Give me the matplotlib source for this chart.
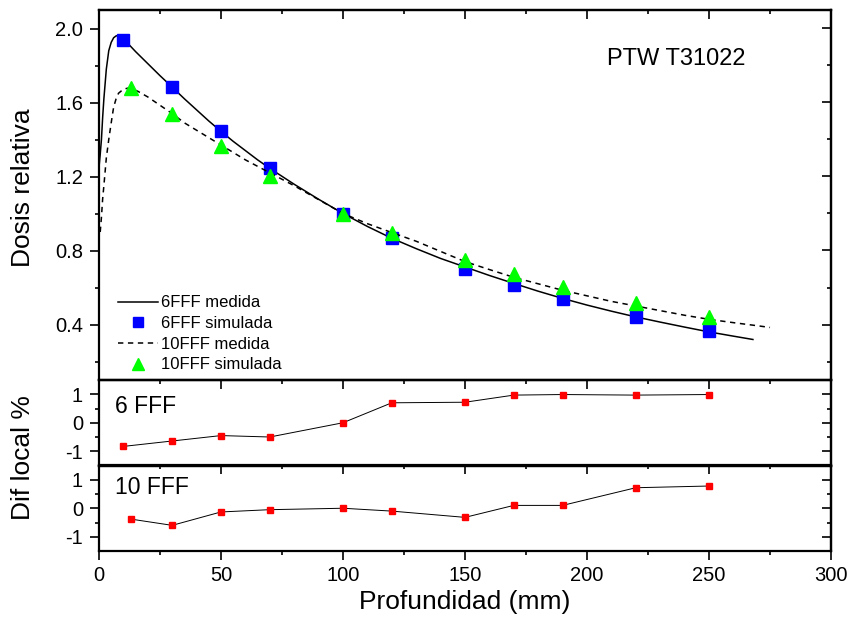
import matplotlib
matplotlib.use("Agg")
import matplotlib.pyplot as plt

plt.rcParams["font.family"] = ["Liberation Sans", "DejaVu Sans"]
plt.rcParams["axes.unicode_minus"] = False

# 6FFF medida (measured PDD, solid)
depth_6_med = [0, 0.5, 1, 1.5, 2, 2.5, 3, 4, 5, 6, 7, 8, 9, 10, 15, 20, 25, 30,
               35, 40, 45, 50, 55, 60, 65, 70, 80, 90, 100, 110, 120, 130, 140,
               150, 160, 170, 180, 190, 200, 210, 220, 230, 240, 250, 260, 268]
dose_6_med = [1.25, 1.32, 1.40, 1.52, 1.62, 1.70, 1.78, 1.88, 1.925, 1.95, 1.96,
              1.962, 1.955, 1.945, 1.875, 1.81, 1.745, 1.683, 1.62, 1.56, 1.50,
              1.444, 1.39, 1.34, 1.29, 1.244, 1.158, 1.077, 1.0, 0.93, 0.866,
              0.81, 0.757, 0.711, 0.665, 0.622, 0.58, 0.541, 0.505, 0.472, 0.441,
              0.413, 0.386, 0.36, 0.337, 0.319]

# 10FFF medida (measured PDD, dashed)
depth_10_med = [0.5, 1, 1.5, 2, 3, 4, 5, 6, 7, 8, 10, 12, 14, 16, 20, 25, 30, 35,
                40, 45, 50, 55, 60, 65, 70, 80, 90, 100, 110, 120, 130, 140, 150,
                160, 170, 180, 190, 200, 210, 220, 230, 240, 250, 260, 270, 275]
dose_10_med = [0.90, 0.98, 1.08, 1.15, 1.30, 1.40, 1.49, 1.575, 1.62, 1.65, 1.672,
               1.678, 1.672, 1.66, 1.63, 1.585, 1.54, 1.49, 1.45, 1.41, 1.37, 1.33,
               1.29, 1.255, 1.22, 1.15, 1.075, 1.0, 0.945, 0.897, 0.85, 0.795, 0.74,
               0.697, 0.655, 0.62, 0.585, 0.555, 0.525, 0.50, 0.475, 0.45, 0.428,
               0.41, 0.393, 0.384]

# simulated points
depth_6_sim = [10, 30, 50, 70, 100, 120, 150, 170, 190, 220, 250]
dose_6_sim = [1.937, 1.683, 1.444, 1.244, 1.0, 0.866, 0.70, 0.614, 0.536, 0.441, 0.363]
depth_10_sim = [13, 30, 50, 70, 100, 120, 150, 170, 190, 220, 250]
dose_10_sim = [1.681, 1.537, 1.365, 1.203, 1.0, 0.892, 0.751, 0.672, 0.603, 0.515, 0.441]

# local differences (%)
diff_6 = [-0.83, -0.64, -0.45, -0.50, 0.0, 0.70, 0.72, 0.97, 0.99, 0.97, 0.99]
diff_10 = [-0.38, -0.60, -0.13, -0.05, 0.0, -0.10, -0.32, 0.10, 0.10, 0.72, 0.78]

TICK_FS = 14.5
LABEL_FS = 19
SPINE_W = 1.6
MAJ, MIN = 6.5, 3


def style_axes(ax, yticks, yminor, ylim, xlabels):
    ax.set_facecolor("none")
    ax.set_xlim(0, 300)
    ax.set_ylim(*ylim)
    ax.set_xticks(range(0, 301, 50))
    ax.set_xticks(range(25, 300, 50), minor=True)
    ax.set_yticks(yticks)
    ax.set_yticks(yminor, minor=True)
    for s in ax.spines.values():
        s.set_linewidth(SPINE_W)
    ax.tick_params(axis="y", which="both", direction="out", left=True, right=False,
                   labelsize=TICK_FS, pad=5, width=1.2)
    ax.tick_params(axis="y", which="major", length=MAJ)
    ax.tick_params(axis="y", which="minor", length=MIN)
    # right-hand ticks point inward
    sec_y = ax.secondary_yaxis("right")
    sec_y.set_yticks(yticks)
    sec_y.set_yticks(yminor, minor=True)
    sec_y.tick_params(which="both", direction="in", labelright=False, width=1.2)
    sec_y.tick_params(which="major", length=MAJ)
    sec_y.tick_params(which="minor", length=MIN)
    sec_y.spines["right"].set_linewidth(SPINE_W)
    # top ticks point inward
    sec_x = ax.secondary_xaxis("top")
    sec_x.set_xticks(range(0, 301, 50))
    sec_x.set_xticks(range(25, 300, 50), minor=True)
    sec_x.tick_params(which="both", direction="in", labeltop=False, width=1.2)
    sec_x.tick_params(which="major", length=MAJ)
    sec_x.tick_params(which="minor", length=MIN)
    sec_x.spines["top"].set_linewidth(SPINE_W)
    if xlabels:
        ax.tick_params(axis="x", which="both", direction="out", bottom=True,
                       labelsize=TICK_FS, pad=4, width=1.2)
        ax.tick_params(axis="x", which="major", length=MAJ)
        ax.tick_params(axis="x", which="minor", length=MIN)
    else:
        ax.tick_params(axis="x", which="both", bottom=False, labelbottom=False)


fig = plt.figure(figsize=(8.5, 6.19), dpi=100)
L, W = 99 / 850, 732 / 850
ax_top = fig.add_axes([L, 1 - 380 / 619, W, 370 / 619])
ax_mid = fig.add_axes([L, 1 - 465.5 / 619, W, 85.5 / 619])
ax_bot = fig.add_axes([L, 1 - 551 / 619, W, 85.5 / 619])

style_axes(ax_top, [0.4, 0.8, 1.2, 1.6, 2.0], [0.2, 0.6, 1.0, 1.4, 1.8], (0.1, 2.1), False)
style_axes(ax_mid, [-1, 0, 1], [-0.5, 0.5], (-1.5, 1.5), False)
style_axes(ax_bot, [-1, 0, 1], [-0.5, 0.5], (-1.5, 1.5), True)

ax_top.set_yticklabels(["0.4", "0.8", "1.2", "1.6", "2.0"])

ax_top.plot(depth_6_med, dose_6_med, color="black", lw=1.1, label="6FFF medida")
ax_top.plot(depth_6_sim, dose_6_sim, ls="none", marker="s", ms=8.5,
            color="#0000ff", label="6FFF simulada")
ax_top.plot(depth_10_med, dose_10_med, color="black", lw=1.1, dashes=(3.5, 3),
            label="10FFF medida")
ax_top.plot(depth_10_sim, dose_10_sim, ls="none", marker="^", ms=10,
            color="#00ff00", label="10FFF simulada")

ax_top.legend(loc="lower left", bbox_to_anchor=(0.005, -0.02), frameon=False,
              fontsize=12, handlelength=2.4, handletextpad=0.2,
              labelspacing=0.34, markerscale=0.8)
ax_top.text(236.5, 1.835, "PTW T31022", fontsize=17, ha="center", va="center")

ax_mid.plot(depth_6_sim, diff_6, color="black", lw=0.7, marker="s", ms=5,
            mfc="#ff0000", mec="#ff0000")
ax_bot.plot(depth_10_sim, diff_10, color="black", lw=0.7, marker="s", ms=5,
            mfc="#ff0000", mec="#ff0000")
ax_mid.text(6.5, 0.56, "6 FFF", fontsize=16.5, ha="left", va="center")
ax_bot.text(6.5, 0.73, "10 FFF", fontsize=16.5, ha="left", va="center")

ax_bot.set_xlabel("Profundidad (mm)", fontsize=LABEL_FS, labelpad=4)
fig.text(23 / 850, 1 - 188 / 619, "Dosis relativa", fontsize=LABEL_FS,
         rotation=90, ha="center", va="center")
fig.text(23 / 850, 1 - 457.5 / 619, "Dif local %", fontsize=LABEL_FS,
         rotation=90, ha="center", va="center")

fig.savefig("out.png", dpi=100)
